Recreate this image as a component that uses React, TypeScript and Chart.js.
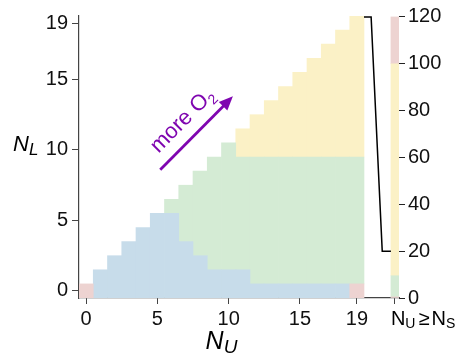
import React, { useEffect, useRef } from 'react';
import { Chart, registerables } from 'chart.js';

Chart.register(...registerables);

// ---- data ----
// columns N_U = 0..19 ; for each column, the highest N_L covered by each colour band
// (bands stack from N_L = 0 upward: pink, blue, green, yellow; -1 = band absent)
const nU = [0, 1, 2, 3, 4, 5, 6, 7, 8, 9, 10, 11, 12, 13, 14, 15, 16, 17, 18, 19];
const pinkTop = [0, -1, -1, -1, -1, -1, -1, -1, -1, -1, -1, -1, -1, -1, -1, -1, -1, -1, -1, 0];
const blueTop = [0, 1, 2, 3, 4, 5, 5, 3, 2, 1, 1, 1, 0, 0, 0, 0, 0, 0, 0, 0];
const greenTop = [0, 1, 2, 3, 4, 5, 6, 7, 8, 9, 10, 9, 9, 9, 9, 9, 9, 9, 9, 9];
const yellowTop = [0, 1, 2, 3, 4, 5, 6, 7, 8, 9, 10, 11, 12, 13, 14, 15, 16, 17, 18, 19];

const xTicks = [0, 5, 10, 15, 19];
const yTicks = [0, 5, 10, 15, 19];

// colour bar (N_S scale)
const cbX = 21.67; // x position of the colour bar column
const cbBounds = [0, 0.5, 9.5, 100, 120];
const cbTicks = [0, 20, 40, 60, 80, 100, 120];

// bracket linking the plot to the colour bar
const bracketX = [19.5, 20.0, 20.78, 21.39];
const bracketY = [120, 120, 20, 20];

// annotation arrow (data units)
const arrowFrom = [5.2, 8.6];
const arrowTo = [10.3, 13.8];

const PINK = '#edd3d1';
const BLUE = '#c7dcea';
const GREEN = '#d4ebd4';
const YELLOW = '#fbf1c6';
const PURPLE = '#7f06b0';
const FONT = '"Liberation Sans", Arial, Helvetica, sans-serif';

function bandData(tops: number[], prev: number[]) {
  const out: { x: number; y: [number, number] }[] = [];
  nU.forEach((u, i) => {
    const lo = prev[i];
    const hi = tops[i];
    if (hi > lo) out.push({ x: u, y: [lo + 0.5, hi + 0.5] });
  });
  return out;
}

const none = nU.map(() => -1);

function maxArr(a: number[], b: number[]) {
  return a.map((v, i) => Math.max(v, b[i]));
}

function drawSub(ctx: CanvasRenderingContext2D, x: number, y: number, main: string, sub: string, mainFont: string, subFont: string, drop: number) {
  ctx.font = mainFont;
  ctx.fillText(main, x, y);
  const w = ctx.measureText(main).width;
  ctx.font = subFont;
  ctx.fillText(sub, x + w, y + drop);
  return w + ctx.measureText(sub).width;
}

const overlay = {
  id: 'overlay',
  afterDraw(chart: any) {
    const ctx: CanvasRenderingContext2D = chart.ctx;
    const xs = chart.scales.x;
    const ys = chart.scales.y;
    const area = chart.chartArea;
    ctx.save();
    ctx.fillStyle = '#000';
    ctx.textBaseline = 'alphabetic';
    ctx.textAlign = 'left';

    // y axis title N_L
    drawSub(ctx, area.left - 66, ys.getPixelForValue(10) + 1, 'N', 'L', `italic 22px ${FONT}`, `italic 17px ${FONT}`, 4);

    // x axis title N_U (centred on main plot)
    ctx.font = `italic 25px ${FONT}`;
    const wN = ctx.measureText('N').width;
    ctx.font = `italic 19px ${FONT}`;
    const wU = ctx.measureText('U').width;
    const cx = xs.getPixelForValue(9.5);
    drawSub(ctx, cx - (wN + wU) / 2, area.bottom + 51, 'N', 'U', `italic 25px ${FONT}`, `italic 19px ${FONT}`, 4);

    // colour bar category label N_U >= N_S
    let px = xs.getPixelForValue(cbX) - 4;
    const by = area.bottom + 27;
    px += drawSub(ctx, px, by, 'N', 'U', `20px ${FONT}`, `14px ${FONT}`, 3);
    ctx.font = `20px ${FONT}`;
    px += 3;
    ctx.fillText('≥', px, by);
    px += ctx.measureText('≥').width + 2;
    drawSub(ctx, px, by, 'N', 'S', `20px ${FONT}`, `14px ${FONT}`, 3);

    // arrow "more O2"
    const x0 = xs.getPixelForValue(arrowFrom[0]);
    const y0 = ys.getPixelForValue(arrowFrom[1]);
    const x1 = xs.getPixelForValue(arrowTo[0]);
    const y1 = ys.getPixelForValue(arrowTo[1]);
    const ang = Math.atan2(y1 - y0, x1 - x0);
    const headLen = 14;
    const headW = 6;
    const bx = x1 - headLen * Math.cos(ang);
    const byy = y1 - headLen * Math.sin(ang);
    ctx.strokeStyle = PURPLE;
    ctx.fillStyle = PURPLE;
    ctx.lineWidth = 2.8;
    ctx.beginPath();
    ctx.moveTo(x0, y0);
    ctx.lineTo(bx + 2 * Math.cos(ang), byy + 2 * Math.sin(ang));
    ctx.stroke();
    ctx.beginPath();
    ctx.moveTo(x1, y1);
    ctx.lineTo(bx + headW * Math.sin(ang), byy - headW * Math.cos(ang));
    ctx.lineTo(bx - headW * Math.sin(ang), byy + headW * Math.cos(ang));
    ctx.closePath();
    ctx.fill();

    ctx.translate(x0, y0);
    ctx.rotate(ang);
    drawSub(ctx, 10, -12.5, 'more O', '2', `22px ${FONT}`, `14px ${FONT}`, 5);
    ctx.restore();
  },
};

export default function App() {
  const ref = useRef<HTMLCanvasElement | null>(null);

  useEffect(() => {
    document.body.style.margin = '0';
    const canvas = ref.current;
    if (!canvas) return;

    const pinkB = pinkTop;
    const blueB = maxArr(blueTop, pinkB);
    const greenB = maxArr(greenTop, blueB);
    const yellowB = maxArr(yellowTop, greenB);

    const barCommon = {
      type: 'bar' as const,
      grouped: false,
      borderWidth: 0,
      barPercentage: 1,
      categoryPercentage: 1,
      xAxisID: 'x',
    };

    const cbColors = [PINK, GREEN, YELLOW, PINK];

    const datasets: any[] = [
      {
        type: 'line',
        data: bracketX.map((x, i) => ({ x, y: bracketY[i] })),
        xAxisID: 'x',
        yAxisID: 'y2',
        borderColor: '#000',
        borderWidth: 1.5,
        pointRadius: 0,
        tension: 0,
        fill: false,
      },
      { ...barCommon, yAxisID: 'y', backgroundColor: PINK, data: bandData(pinkB, none) },
      { ...barCommon, yAxisID: 'y', backgroundColor: BLUE, data: bandData(blueB, pinkB) },
      { ...barCommon, yAxisID: 'y', backgroundColor: GREEN, data: bandData(greenB, blueB) },
      { ...barCommon, yAxisID: 'y', backgroundColor: YELLOW, data: bandData(yellowB, greenB) },
      ...cbColors.map((c, i) => ({
        ...barCommon,
        yAxisID: 'y2',
        maxBarThickness: 8,
        backgroundColor: c,
        data: [{ x: cbX, y: [cbBounds[i], cbBounds[i + 1]] }],
      })),
    ];

    const tickFont = { family: FONT, size: 20 };
    const axisColor = '#444';

    const chart = new Chart(canvas, {
      type: 'bar',
      data: { datasets },
      options: {
        animation: false,
        responsive: false,
        layout: { padding: { top: 13, left: 0, right: 0, bottom: 0 } },
        plugins: { legend: { display: false }, tooltip: { enabled: false } },
        scales: {
          x: {
            type: 'linear',
            offset: false,
            min: -0.5,
            max: 21.956,
            afterBuildTicks: (s: any) => {
              s.ticks = [...xTicks, cbX].map((v) => ({ value: v }));
            },
            afterFit: (s: any) => {
              s.height = 60;
            },
            ticks: {
              autoSkip: false,
              maxRotation: 0,
              padding: 3,
              color: '#111',
              font: tickFont,
              callback: (v: any) => (v === cbX ? '' : String(v)),
            },
            grid: { drawOnChartArea: false, drawTicks: true, tickLength: 6, color: axisColor, offset: false },
            border: { display: true, color: axisColor, width: 1.2 },
          },
          y: {
            type: 'linear',
            position: 'left',
            min: -0.5,
            max: 19.5,
            afterBuildTicks: (s: any) => {
              s.ticks = yTicks.map((v) => ({ value: v }));
            },
            afterFit: (s: any) => {
              s.width = 79;
            },
            ticks: { padding: 4, color: '#111', font: tickFont, callback: (v: any) => String(v) },
            grid: { drawOnChartArea: false, drawTicks: true, tickLength: 7, color: axisColor },
            border: { display: true, color: axisColor, width: 1.2 },
          },
          y2: {
            type: 'linear',
            position: 'right',
            min: 0,
            max: 120.4,
            afterBuildTicks: (s: any) => {
              s.ticks = cbTicks.map((v) => ({ value: v }));
            },
            afterFit: (s: any) => {
              s.width = 60;
            },
            ticks: { padding: 3, color: '#111', font: tickFont, callback: (v: any) => String(v) },
            grid: { drawOnChartArea: false, drawTicks: true, tickLength: 6, color: '#222' },
            border: { display: false },
          },
        },
      } as any,
      plugins: [overlay],
    });

    return () => chart.destroy();
  }, []);

  return (
    <div style={{ width: 459, height: 358 }}>
      <canvas ref={ref} width={459} height={358} style={{ display: 'block' }} />
    </div>
  );
}
